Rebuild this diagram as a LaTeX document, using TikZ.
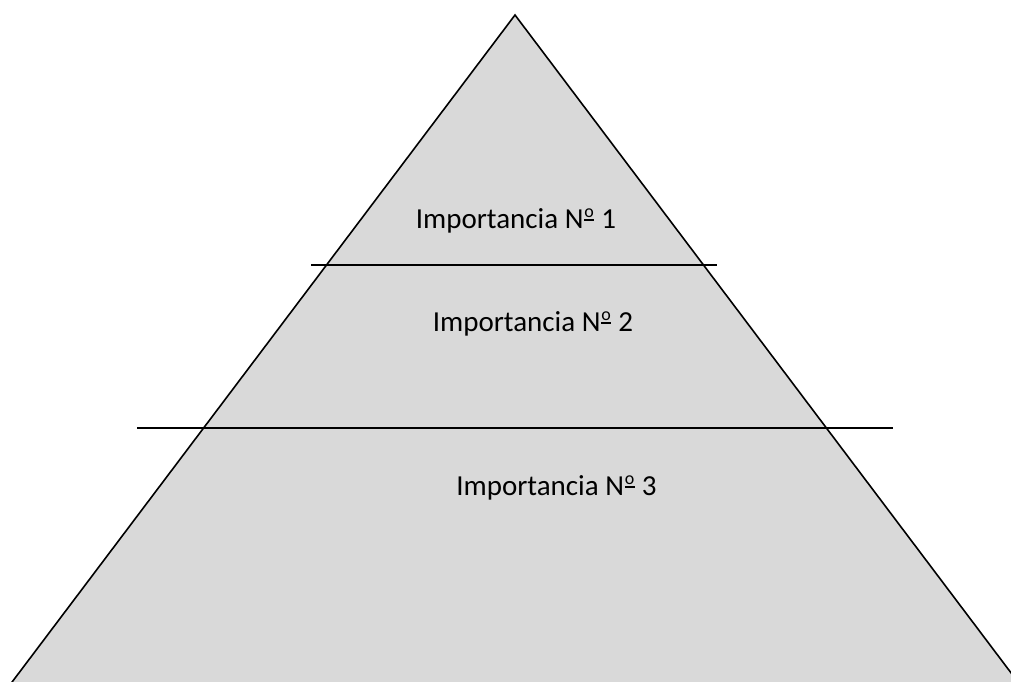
\documentclass[tikz,border=0pt]{standalone}
\usepackage{fontspec}
\setmainfont{Carlito}
\definecolor{pyrfill}{HTML}{D9D9D9}
\newcommand{\myordm}{\raisebox{0.36em}{\scalebox{0.62}{\setlength{\fboxsep}{0pt}\tikz[baseline=0pt]{\node[inner sep=0pt,anchor=base] (o) {o}; \draw[line width=0.09em] ([yshift=-0.12em]o.base west) -- ([yshift=-0.12em]o.base east);}}}}
\tikzset{
  edge/.style={draw=black, line width=1.6pt},
  divider/.style={draw=black, line width=1.6pt},
  label/.style={anchor=base, inner sep=0pt, font=\fontsize{29}{34}\selectfont}
}
\begin{document}
\begin{tikzpicture}[x=1pt, y=-1pt]
\clip (0,0) rectangle (1011,682);
\coordinate (apex) at (515,15);
\coordinate (bl) at (5.3,691);
\coordinate (br) at (1024.7,691);
\fill[pyrfill] (apex) -- (bl) -- (br) -- cycle;
\draw[edge, line join=miter] (bl) -- (apex) -- (br);
\coordinate (l1a) at (311,265);
\coordinate (l1b) at (717,265);
\coordinate (l2a) at (137,428);
\coordinate (l2b) at (893,428);
\draw[divider] (l1a) -- (l1b);
\draw[divider] (l2a) -- (l2b);
\node[label] (t1) at (516,228) {Importancia N\myordm\ 1};
\node[label] (t2) at (533,331) {Importancia N\myordm\ 2};
\node[label] (t3) at (556.5,495) {Importancia N\myordm\ 3};
\end{tikzpicture}
\end{document}
